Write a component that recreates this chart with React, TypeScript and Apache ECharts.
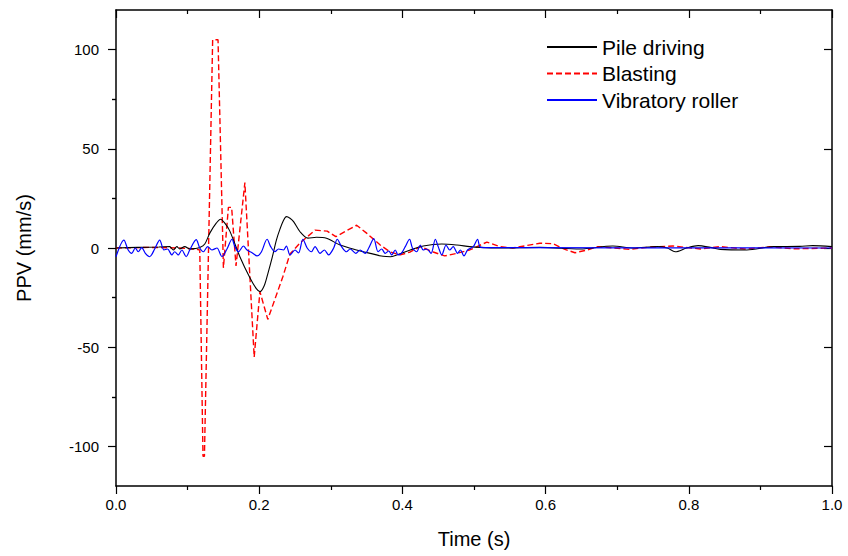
import React, { useEffect, useRef } from "react";
import * as echarts from "echarts";

// [time (s), PPV (mm/s)]
const pileDriving: number[][] = [
  [0, 0], [0.03, 0.3], [0.06, 0.5], [0.075, 0.7], [0.08, -1], [0.085, 0.7], [0.089, -0.5],
  [0.096, 0.7], [0.103, -0.5], [0.11, -0.3], [0.117, 0.2], [0.124, 2], [0.131, 7.5],
  [0.14, 12.5], [0.146, 14.5], [0.152, 12.5], [0.159, 8.5], [0.173, -4.4], [0.187, -15],
  [0.196, -20.5], [0.201, -22], [0.207, -19], [0.212, -13], [0.218, -5], [0.224, 4],
  [0.229, 9.5], [0.234, 14], [0.238, 15.8], [0.243, 15], [0.248, 13.3], [0.257, 8.2],
  [0.268, 5], [0.28, 5.4], [0.294, 4.9], [0.313, 1.5], [0.336, -1], [0.355, -2.7],
  [0.373, -4.2], [0.383, -4.4], [0.392, -3.5], [0.411, -1], [0.429, 1], [0.455, 2],
  [0.476, 1.5], [0.494, 0.7], [0.508, 0.3], [0.536, 0], [0.592, 0.3], [0.648, -0.5],
  [0.694, 1], [0.722, 0], [0.756, 0.7], [0.77, 0], [0.781, -1.9], [0.797, 0], [0.813, 1.2],
  [0.83, 0.3], [0.844, -0.7], [0.881, -1], [0.918, 0.7], [0.955, 0.8], [0.973, 1.2], [1.0, 0.7],
];

const blasting: number[][] = [
  [0, 0], [0.047, 0.3], [0.089, 0], [0.11, -0.5], [0.117, -1], [0.1215, -105], [0.1235, -105],
  [0.135, 105], [0.1425, 105], [0.15, -10], [0.157, 20.5], [0.1615, 20.5], [0.1676, -9],
  [0.18, 33], [0.193, -55], [0.201, -22], [0.212, -36], [0.233, -14.5], [0.243, -3],
  [0.257, 2.5], [0.278, 9], [0.295, 8.5], [0.307, 5.7], [0.336, 11.5], [0.35, 7.5],
  [0.369, 1.5], [0.383, -2], [0.397, -3.5], [0.411, -2], [0.425, 0.7], [0.443, -2],
  [0.459, -4], [0.476, -2.7], [0.494, -1], [0.518, 3], [0.536, 0.7], [0.554, 0],
  [0.592, 2.4], [0.61, 2.2], [0.627, -0.7], [0.641, -2.4], [0.658, -1], [0.673, 0.7],
  [0.718, -0.7], [0.746, 0.5], [0.778, 1], [0.816, -0.5], [0.844, 0.7], [0.878, -0.5],
  [0.913, 0.6], [0.948, -0.4], [1.0, 0],
];

const vibratoryRoller: number[][] = [
  [0, -4.4], [0.011, 4], [0.017, -1], [0.022, -2.7], [0.027, 0], [0.031, -1.9], [0.036, 0.2],
  [0.041, -2.7], [0.047, -4.4], [0.054, -0.5], [0.061, 4], [0.067, -1], [0.072, -0.5],
  [0.078, -3.5], [0.082, -1.9], [0.087, -3.5], [0.092, -1], [0.098, -4.4], [0.103, -1],
  [0.112, 4.2], [0.117, 0], [0.122, -1.9], [0.128, 0.7], [0.134, -1], [0.141, 0],
  [0.148, -4.4], [0.155, -0.5], [0.162, 4.4], [0.166, 0.7], [0.171, -1.9], [0.178, 1],
  [0.183, -1], [0.19, -2.4], [0.197, -4], [0.203, -2], [0.211, 4.4], [0.216, 0.7],
  [0.222, -1.9], [0.227, -0.5], [0.234, -1], [0.238, 1], [0.243, -3.5], [0.25, -1],
  [0.255, -2.5], [0.261, 4.4], [0.267, 0], [0.273, -1.9], [0.278, 0.7], [0.285, -2.7],
  [0.291, -1], [0.297, -3.5], [0.304, 0], [0.309, 4.4], [0.315, 0.7], [0.322, -1.9],
  [0.327, -0.5], [0.335, -2.7], [0.341, -1], [0.348, -2.7], [0.353, 0], [0.36, 4.7],
  [0.366, -1.9], [0.371, -0.5], [0.376, -2.7], [0.381, -1.5], [0.385, -3.5], [0.39, -1],
  [0.394, -3.5], [0.399, -2.5], [0.404, 0.7], [0.41, 4.4], [0.414, 0], [0.42, -1.9],
  [0.425, 1.5], [0.429, -1], [0.434, -0.5], [0.44, -2.7], [0.446, 4.4], [0.45, 0.7],
  [0.455, -3.5], [0.461, 1.5], [0.466, -1], [0.471, 0.7], [0.477, -2.7], [0.481, -1],
  [0.486, -4], [0.491, -1], [0.499, 0.7], [0.505, 4.4], [0.508, 0.7], [0.513, 0.2], [1.0, 0],
];

const seriesNames = ["Pile driving", "Blasting", "Vibratory roller"];
const yLabelValues = [-100, -50, 0, 50, 100];
const yMinorValues = [-75, -25, 25, 75];

const FONT = 'Arial, "Liberation Sans", sans-serif';

export default function App() {
  const ref = useRef<HTMLDivElement>(null);

  useEffect(() => {
    if (!ref.current) return;
    const chart = echarts.init(ref.current, null, { renderer: "svg" });
    const axisLine = { show: true, onZero: false, lineStyle: { color: "#000", width: 1.5 } };
    const yAxisBase = {
      type: "value",
      min: -120,
      max: 120,
      splitLine: { show: false },
      axisLine,
    };
    chart.setOption({
      animation: false,
      backgroundColor: "#fff",
      grid: { left: 116, right: 16, top: 10, bottom: 70, containLabel: false },
      legend: {
        data: seriesNames,
        orient: "vertical",
        left: 541,
        top: 31,
        itemWidth: 50,
        itemHeight: 12,
        itemGap: 4.5,
        itemStyle: { opacity: 0 },
        textStyle: { fontSize: 21, color: "#000", fontFamily: FONT, lineHeight: 22 },
      },
      xAxis: [
        {
          type: "value",
          min: 0,
          max: 1,
          interval: 0.2,
          position: "bottom",
          name: "Time (s)",
          nameLocation: "middle",
          nameGap: 43,
          nameTextStyle: { fontSize: 20, color: "#000", fontFamily: FONT },
          axisLine,
          axisTick: { show: true, length: 8, lineStyle: { color: "#000", width: 1.2 } },
          minorTick: { show: true, splitNumber: 2, length: 4, lineStyle: { color: "#000", width: 1.2 } },
          axisLabel: {
            fontSize: 15,
            color: "#000",
            fontFamily: FONT,
            margin: 11,
            formatter: (v: number) => v.toFixed(1),
          },
          splitLine: { show: false },
        },
        {
          type: "value",
          min: 0,
          max: 1,
          interval: 0.2,
          position: "top",
          axisLine,
          axisTick: { show: true, inside: true, length: 8, lineStyle: { color: "#000", width: 1.2 } },
          minorTick: { show: true, splitNumber: 2, length: 4, lineStyle: { color: "#000", width: 1.2 } },
          axisLabel: { show: false },
          splitLine: { show: false },
        },
      ],
      yAxis: [
        {
          ...yAxisBase,
          position: "left",
          name: "PPV (mm/s)",
          nameLocation: "middle",
          nameGap: 82,
          nameRotate: 90,
          nameTextStyle: { fontSize: 20, color: "#000", fontFamily: FONT },
          axisTick: { show: true, length: 8, customValues: yLabelValues, lineStyle: { color: "#000", width: 1.2 } },
          axisLabel: {
            show: true,
            customValues: yLabelValues,
            fontSize: 15,
            color: "#000",
            fontFamily: FONT,
            margin: 17,
          },
        },
        {
          ...yAxisBase,
          position: "left",
          axisLine: { show: false },
          axisTick: { show: true, length: 4, customValues: yMinorValues, lineStyle: { color: "#000", width: 1.2 } },
          axisLabel: { show: false },
        },
        {
          ...yAxisBase,
          position: "right",
          axisTick: { show: true, inside: true, length: 8, customValues: yLabelValues, lineStyle: { color: "#000", width: 1.2 } },
          axisLabel: { show: false },
        },
        {
          ...yAxisBase,
          position: "right",
          axisLine: { show: false },
          axisTick: { show: true, inside: true, length: 4, customValues: yMinorValues, lineStyle: { color: "#000", width: 1.2 } },
          axisLabel: { show: false },
        },
      ],
      series: [
        {
          name: seriesNames[0],
          type: "line",
          data: pileDriving,
          symbol: "none",
          smooth: 0.3,
          lineStyle: { color: "#000000", width: 1.1 },
          itemStyle: { color: "#000000" },
          z: 3,
        },
        {
          name: seriesNames[1],
          type: "line",
          data: blasting,
          symbol: "none",
          lineStyle: { color: "#ff0000", width: 1.4, type: [6, 3] },
          itemStyle: { color: "#ff0000" },
          z: 2,
        },
        {
          name: seriesNames[2],
          type: "line",
          data: vibratoryRoller,
          symbol: "none",
          smooth: 0.3,
          lineStyle: { color: "#0000ff", width: 1.2 },
          itemStyle: { color: "#0000ff" },
          z: 4,
        },
      ],
    });
    return () => chart.dispose();
  }, []);

  return <div ref={ref} style={{ width: 848, height: 556, position: "absolute", left: 0, top: 0 }} />;
}
